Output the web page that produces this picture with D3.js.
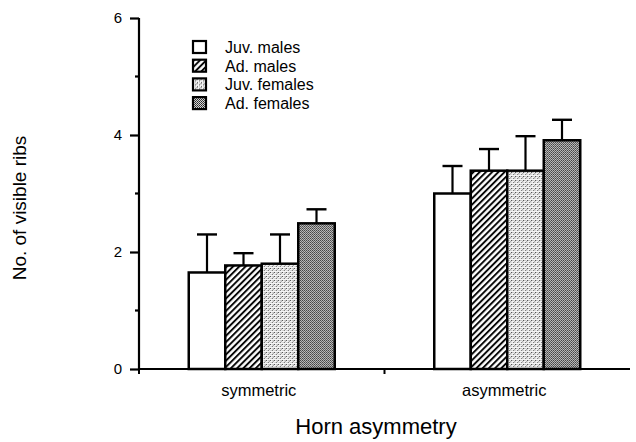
<!DOCTYPE html>
<html>
<head>
<meta charset="utf-8">
<script src="https://cdn.jsdelivr.net/npm/d3@7"></script>
<style>
  body { margin: 0; background: #fff; }
  text { font-family: "Liberation Sans", Arial, sans-serif; fill: #000; }
</style>
</head>
<body>
<div id="chart"></div>
<script>
// data
var groups = ["symmetric", "asymmetric"];
var series = ["Juv. males", "Ad. males", "Juv. females", "Ad. females"];
var means = [
  [1.65, 1.77, 1.80, 2.49],   // symmetric
  [3.00, 3.39, 3.39, 3.91]    // asymmetric
];
var upperErr = [
  [2.30, 1.98, 2.30, 2.73],
  [3.47, 3.76, 3.98, 4.26]
];
var yTicks = [0, 2, 4, 6];
var yMinor = [1, 3, 5];

var width = 636, height = 442;
var margin = { left: 139, right: 6, top: 18, bottom: 73 };

var svg = d3.select("#chart").append("svg")
  .attr("width", width)
  .attr("height", height);

// fill patterns to mimic the print halftones
var defs = svg.append("defs");

var hatch = defs.append("pattern")
  .attr("id", "hatch")
  .attr("patternUnits", "userSpaceOnUse")
  .attr("width", 4.4)
  .attr("height", 4.4)
  .attr("patternTransform", "rotate(45)");
hatch.append("rect").attr("width", 4.4).attr("height", 4.4).attr("fill", "#fff");
hatch.append("line")
  .attr("x1", 1).attr("y1", 0).attr("x2", 1).attr("y2", 4.4)
  .attr("stroke", "#000").attr("stroke-width", 1.9);

var light = defs.append("pattern")
  .attr("id", "light")
  .attr("patternUnits", "userSpaceOnUse")
  .attr("width", 4).attr("height", 4);
light.append("rect").attr("width", 4).attr("height", 4).attr("fill", "#f4f4f4");
[[0, 0, "#222"], [2, 2, "#555"], [2, 0, "#bbb"], [0, 2, "#ccc"], [3, 1, "#999"]].forEach(function(p) {
  light.append("rect").attr("x", p[0]).attr("y", p[1]).attr("width", 1).attr("height", 1).attr("fill", p[2]);
});

var dark = defs.append("pattern")
  .attr("id", "dark")
  .attr("patternUnits", "userSpaceOnUse")
  .attr("width", 2).attr("height", 2);
dark.append("rect").attr("width", 2).attr("height", 2).attr("fill", "#e8e8e8");
dark.append("rect").attr("x", 0).attr("y", 0).attr("width", 1).attr("height", 1).attr("fill", "#111");
dark.append("rect").attr("x", 1).attr("y", 1).attr("width", 1).attr("height", 1).attr("fill", "#333");

var fills = ["#fff", "url(#hatch)", "url(#light)", "url(#dark)"];

// scales
var y = d3.scaleLinear()
  .domain([0, 6])
  .range([height - margin.bottom, margin.top]);

var x0 = d3.scalePoint()
  .domain(groups)
  .range([margin.left, width - margin.right])
  .padding(0.5);

var x1 = d3.scaleBand()
  .domain(series)
  .range([-73, 73]);

// bars
var groupG = svg.selectAll(".group")
  .data(groups)
  .enter()
  .append("g")
  .attr("class", "group")
  .attr("transform", function(d) { return "translate(" + x0(d) + ",0)"; });

groupG.each(function(g, gi) {
  var sel = d3.select(this);
  var rows = series.map(function(s, si) {
    return { s: s, i: si, v: means[gi][si], e: upperErr[gi][si] };
  });

  // error bars first so the bar outline sits over their foot
  sel.selectAll(".err")
    .data(rows)
    .enter()
    .append("line")
    .attr("x1", function(d) { return x1(d.s) + x1.bandwidth() / 2; })
    .attr("x2", function(d) { return x1(d.s) + x1.bandwidth() / 2; })
    .attr("y1", function(d) { return y(d.v); })
    .attr("y2", function(d) { return y(d.e); })
    .attr("stroke", "#000")
    .attr("stroke-width", 2.2);

  sel.selectAll(".cap")
    .data(rows)
    .enter()
    .append("line")
    .attr("x1", function(d) { return x1(d.s) + x1.bandwidth() / 2 - 10; })
    .attr("x2", function(d) { return x1(d.s) + x1.bandwidth() / 2 + 10; })
    .attr("y1", function(d) { return y(d.e); })
    .attr("y2", function(d) { return y(d.e); })
    .attr("stroke", "#000")
    .attr("stroke-width", 2.4);

  sel.selectAll(".bar")
    .data(rows)
    .enter()
    .append("rect")
    .attr("class", "bar")
    .attr("x", function(d) { return x1(d.s); })
    .attr("width", x1.bandwidth())
    .attr("y", function(d) { return y(d.v); })
    .attr("height", function(d) { return y(0) - y(d.v); })
    .attr("fill", function(d) { return fills[d.i]; })
    .attr("stroke", "#000")
    .attr("stroke-width", 2.5);
});

// y axis
var yAxis = svg.append("g")
  .attr("transform", "translate(" + margin.left + ",0)")
  .call(d3.axisLeft(y).tickValues(yTicks).tickSize(9).tickPadding(8).tickFormat(d3.format("d")));
yAxis.select(".domain").attr("stroke-width", 2.2).attr("d", "M-0," + y(6) + "V" + y(0));
yAxis.selectAll(".tick line").attr("stroke-width", 2.2);
yAxis.selectAll(".tick text")
  .style("font-size", "15px")
  .style("font-family", "Liberation Sans, Arial, sans-serif");

svg.append("g")
  .selectAll("line")
  .data(yMinor)
  .enter()
  .append("line")
  .attr("x1", margin.left - 4)
  .attr("x2", margin.left)
  .attr("y1", function(d) { return y(d); })
  .attr("y2", function(d) { return y(d); })
  .attr("stroke", "#000")
  .attr("stroke-width", 2.2);

// x axis
svg.append("line")
  .attr("x1", margin.left - 1)
  .attr("x2", width - margin.right)
  .attr("y1", y(0))
  .attr("y2", y(0))
  .attr("stroke", "#000")
  .attr("stroke-width", 2.2);

svg.append("line")
  .attr("x1", (x0(groups[0]) + x0(groups[1])) / 2)
  .attr("x2", (x0(groups[0]) + x0(groups[1])) / 2)
  .attr("y1", y(0))
  .attr("y2", y(0) + 5)
  .attr("stroke", "#000")
  .attr("stroke-width", 2);

svg.append("line")
  .attr("x1", margin.left)
  .attr("x2", margin.left)
  .attr("y1", y(0))
  .attr("y2", y(0) + 5)
  .attr("stroke", "#000")
  .attr("stroke-width", 2);

svg.selectAll(".xlab")
  .data(groups)
  .enter()
  .append("text")
  .attr("x", function(d) { return x0(d) - 3; })
  .attr("y", 396)
  .attr("text-anchor", "middle")
  .style("font-size", "16.5px")
  .text(function(d) { return d; });

// axis titles
svg.append("text")
  .attr("x", 376)
  .attr("y", 434)
  .attr("text-anchor", "middle")
  .style("font-size", "22px")
  .text("Horn asymmetry");

svg.append("text")
  .attr("transform", "translate(26,208) rotate(-90)")
  .attr("text-anchor", "middle")
  .style("font-size", "19px")
  .text("No. of visible ribs");

// legend
var legend = svg.selectAll(".legend")
  .data(series)
  .enter()
  .append("g")
  .attr("class", "legend")
  .attr("transform", function(d, i) { return "translate(193," + (41 + i * 18.7) + ")"; });

legend.append("rect")
  .attr("width", 13)
  .attr("height", 12)
  .attr("fill", function(d, i) { return fills[i]; })
  .attr("stroke", "#000")
  .attr("stroke-width", 2.2);

legend.append("text")
  .attr("x", 32)
  .attr("y", 12)
  .style("font-size", "16px")
  .text(function(d) { return d; });
</script>
</body>
</html>
